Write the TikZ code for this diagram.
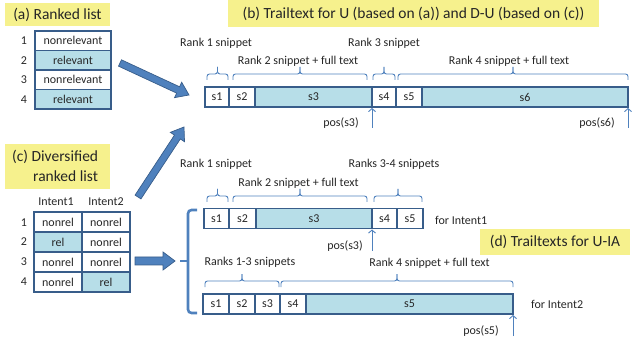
\documentclass[tikz,border=0pt]{standalone}
\usepackage{fontspec}
\setmainfont{Carlito}
\usetikzlibrary{calc,arrows.meta}

\definecolor{txt}{RGB}{38,38,38}
\definecolor{titlefill}{RGB}{246,241,141}
\definecolor{relfill}{RGB}{183,222,232}
\definecolor{boxline}{RGB}{56,93,138}
\definecolor{accent}{RGB}{79,129,189}
\definecolor{arrowline}{RGB}{56,93,138}

% block arrow: tail, tip, half shaft width, half head width, head length
\newcommand\blockarrow[5]{%
  \coordinate (bah) at ($(#2)!#5!(#1)$);
  \draw[blockarrow] ($(#1)!#3!90:(#2)$) -- ($(bah)!#3!90:(#2)$) -- ($(bah)!#4!90:(#2)$)
    -- (#2) -- ($(bah)!#4!-90:(#2)$) -- ($(bah)!#3!-90:(#2)$) -- ($(#1)!#3!-90:(#2)$) -- cycle;}

% square brace over a span: left x, right x, y of the feet
\newcommand\spanbrace[3]{%
  \draw[brc] (#1,#3) -- (#1,#3-6) -- ({(#1+#2)/2},#3-6) -- ({(#1+#2)/2},#3-13);
  \draw[brc] (#2,#3) -- (#2,#3-6) -- ({(#1+#2)/2},#3-6) -- ({(#1+#2)/2},#3-13);}

\begin{document}
\begin{tikzpicture}[x=1pt,y=-1pt,
  every node/.style={font=\fontsize{12}{14}\selectfont, text=txt},
  title/.style={fill=titlefill, font=\fontsize{15.5}{18}\selectfont, inner sep=0},
  cell/.style={draw=boxline, line width=1.3pt, inner sep=0, outer sep=0, minimum height=20pt, anchor=west},
  lcell/.style={draw=boxline, line width=1.3pt, inner sep=0, outer sep=0, minimum height=19.5pt, minimum width=76pt},
  tcell/.style={draw=boxline, line width=1.3pt, inner sep=0, outer sep=0, minimum height=20pt, minimum width=48pt},
  rel/.style={fill=relfill},
  brc/.style={draw=accent, line width=0.9pt, rounded corners=2.5pt},
  bigbrc/.style={draw=accent, line width=2.6pt, rounded corners=3.5pt},
  posarrow/.style={draw=accent, line width=0.9pt, -{Straight Barb[length=3pt,width=7pt]}, shorten >=1pt},
  blockarrow/.style={fill=accent, draw=arrowline, line width=0.7pt, line join=miter}]
\useasboundingbox (0,0) rectangle (632,339);

% ---------- (a) ranked list ----------
\node[title, minimum width=105pt, minimum height=23pt] (ta) at (57.5,14.5) {(a) Ranked list};
\node[lcell] (a1) at (73,40.75) {nonrelevant};
\node[lcell, rel] (a2) at (73,60.25) {relevant};
\node[lcell] (a3) at (73,79.75) {nonrelevant};
\node[lcell, rel] (a4) at (73,99.25) {relevant};
\node (na1) at (24,41) {1};
\node (na2) at (24,60.5) {2};
\node (na3) at (24,80) {3};
\node (na4) at (24,99.5) {4};

% ---------- (c) diversified ranked list ----------
\node[title, minimum width=105pt, minimum height=45pt] (tc) at (57.5,166.5) {};
\node[font=\fontsize{15.5}{18}\selectfont, anchor=west, inner sep=0] (tc1) at (12,157) {(c) Diversified};
\node[font=\fontsize{15.5}{18}\selectfont, anchor=west, inner sep=0] (tc2) at (33,176) {ranked list};
\node (i1) at (56,202) {Intent1};
\node (i2) at (106,202) {Intent2};
\node[tcell] (c11) at (58,222) {nonrel};
\node[tcell] (c12) at (106,222) {nonrel};
\node[tcell, rel] (c21) at (58,242) {rel};
\node[tcell] (c22) at (106,242) {nonrel};
\node[tcell] (c31) at (58,262) {nonrel};
\node[tcell] (c32) at (106,262) {nonrel};
\node[tcell] (c41) at (58,282) {nonrel};
\node[tcell, rel] (c42) at (106,282) {rel};
\node (nc1) at (24,223) {1};
\node (nc2) at (24,242) {2};
\node (nc3) at (24,262) {3};
\node (nc4) at (24,281.5) {4};

% ---------- (b) trailtext for U and D-U ----------
\node[title, minimum width=371pt, minimum height=27pt] (tb) at (413.5,13.5) {(b) Trailtext for U (based on (a)) and D-U (based on (c))};
\node[cell, minimum width=24pt] (b1) at (205,97) {s1};
\node[cell, minimum width=26pt] (b2) at (b1.east) {s2};
\node[cell, rel, minimum width=117pt] (b3) at (b2.east) {s3};
\node[cell, minimum width=24pt] (b4) at (b3.east) {s4};
\node[cell, minimum width=26pt] (b5) at (b4.east) {s5};
\node[cell, rel, minimum width=206pt] (b6) at (b5.east) {s6};

\spanbrace{207}{228}{80}
\spanbrace{233}{367}{80}
\spanbrace{373}{395}{80}
\spanbrace{398}{628}{80}
\node[anchor=west, inner sep=0] (lb1) at (180,43) {Rank 1 snippet};
\node[inner sep=0] (lb2) at (298,61) {Rank 2 snippet + full text};
\node[inner sep=0] (lb3) at (384,43) {Rank 3 snippet};
\node[inner sep=0] (lb4) at (509,61) {Rank 4 snippet + full text};

\coordinate (pb3) at (372,128);
\coordinate (pb6) at (628,128);
\draw[posarrow] (pb3) -- (b3.south east);
\draw[posarrow] (pb6) -- (b6.south east);
\node[inner sep=0] (lpb3) at (341,123) {pos(s3)};
\node[inner sep=0] (lpb6) at (597,123) {pos(s6)};

% ---------- (d) trailtexts for U-IA ----------
\node[title, minimum width=150pt, minimum height=26pt] (td) at (555,242) {(d) Trailtexts for U-IA};

% intent 1
\node[cell, minimum width=25pt] (d1) at (204,218.5) {s1};
\node[cell, minimum width=27pt] (d2) at (d1.east) {s2};
\node[cell, rel, minimum width=116pt] (d3) at (d2.east) {s3};
\node[cell, minimum width=25pt] (d4) at (d3.east) {s4};
\node[cell, minimum width=26pt] (d5) at (d4.east) {s5};
\node[anchor=west, inner sep=0] (fi1) at (435,220) {for Intent1};
\spanbrace{207}{228}{202}
\spanbrace{233}{367}{202}
\spanbrace{374}{422}{202}
\node[anchor=west, inner sep=0] (ld1) at (180,164) {Rank 1 snippet};
\node[inner sep=0] (ld2) at (298.5,183) {Rank 2 snippet + full text};
\node[inner sep=0] (ld3) at (394,164) {Ranks 3-4 snippets};
\coordinate (pd3) at (372,251);
\draw[posarrow] (pd3) -- (d3.south east);
\node[inner sep=0] (lpd3) at (345,246) {pos(s3)};

% intent 2
\node[cell, minimum width=26pt] (e1) at (203,304) {s1};
\node[cell, minimum width=26pt] (e2) at (e1.east) {s2};
\node[cell, minimum width=25pt] (e3) at (e2.east) {s3};
\node[cell, minimum width=26pt] (e4) at (e3.east) {s4};
\node[cell, rel, minimum width=207pt] (e5) at (e4.east) {s5};
\node[anchor=west, inner sep=0] (fi2) at (531,304) {for Intent2};
\spanbrace{205}{279}{287}
\spanbrace{281}{513}{287}
\node[inner sep=0] (le1) at (250,262) {Ranks 1-3 snippets};
\node[inner sep=0] (le2) at (429.5,263) {Rank 4 snippet + full text};
\coordinate (pe5) at (513,336);
\draw[posarrow] (pe5) -- (e5.south east);
\node[inner sep=0] (lpe5) at (481,331) {pos(s5)};

% big bracket grouping the two intents
\draw[bigbrc] (197,210) -- (188,210) -- (188,313) -- (197,313);
\coordinate (bigtip) at (180,261);
\draw[draw=accent, line width=2.6pt] (188,261) -- (bigtip);

% ---------- block arrows ----------
\coordinate (ka) at (120,63);
\coordinate (kb) at (189,95);
\coordinate (kc) at (138,197);
\coordinate (kd) at (184,127);
\coordinate (ke) at (135,261);
\coordinate (kf) at (175,261);
\blockarrow{ka}{kb}{3.5pt}{8.5pt}{12pt}
\blockarrow{kc}{kd}{3.5pt}{8.5pt}{12pt}
\blockarrow{ke}{kf}{4pt}{9pt}{12pt}
\end{tikzpicture}
\end{document}
